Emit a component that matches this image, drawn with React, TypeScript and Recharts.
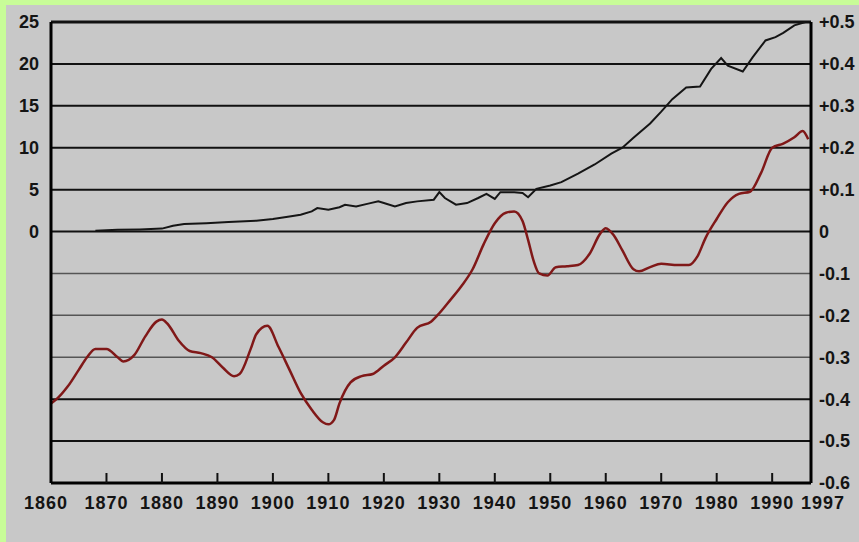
import {
  LineChart,
  Line,
  XAxis,
  YAxis,
  ReferenceLine,
} from 'recharts';

const tempYears = [
  1860, 1861, 1863, 1865, 1866.5, 1868, 1870, 1872, 1873, 1875, 1877, 1879, 1880, 1881, 1883,
  1885, 1887, 1889, 1891, 1893, 1894, 1896, 1897, 1899, 1901, 1903, 1905, 1907, 1909, 1910,
  1911, 1912, 1914, 1916, 1918, 1920, 1922, 1924, 1926, 1928.5, 1930, 1932, 1934, 1936, 1938,
  1940, 1942, 1943.5, 1945, 1946, 1947, 1948, 1949.5, 1951, 1953, 1955, 1957, 1959, 1960,
  1961.5, 1963, 1965, 1966, 1968, 1970, 1973, 1975, 1976.5, 1978, 1980, 1982, 1984, 1986,
  1988, 1990, 1992, 1994, 1995.5, 1996.5,
];
const tempAnomaly = [
  -0.41, -0.4, -0.37, -0.33, -0.3, -0.28, -0.28, -0.3, -0.31, -0.295, -0.25, -0.215, -0.21,
  -0.22, -0.26, -0.285, -0.29, -0.3, -0.325, -0.345, -0.34, -0.28, -0.245, -0.225, -0.275,
  -0.33, -0.385, -0.425, -0.455, -0.46, -0.45, -0.41, -0.36, -0.345, -0.34, -0.32, -0.3,
  -0.265, -0.23, -0.215, -0.195, -0.163, -0.13, -0.09, -0.03, 0.02, 0.045, 0.048, 0.025,
  -0.02, -0.07, -0.1, -0.105, -0.085, -0.083, -0.08, -0.055, -0.005, 0.008, -0.01, -0.045,
  -0.09, -0.095, -0.085, -0.077, -0.08, -0.08, -0.06, -0.015, 0.03, 0.07, 0.09, 0.095, 0.14,
  0.2, 0.21, 0.225, 0.24, 0.22,
];

const emissionYears = [
  1868, 1872, 1876, 1880, 1882, 1884, 1888, 1892, 1897, 1900, 1903, 1905, 1907, 1908, 1910,
  1912, 1913, 1915, 1917, 1919, 1920, 1922, 1924, 1926, 1929, 1930, 1931, 1933, 1935, 1937,
  1938.5, 1940, 1941, 1943.5, 1945, 1946, 1947.5, 1950, 1952, 1955, 1958, 1961, 1963, 1965,
  1968, 1970, 1972, 1974.5, 1977, 1979, 1980.8, 1982, 1984.7, 1986.5, 1988.8, 1990.6, 1992,
  1994, 1996,
];
const emissions = [
  0.1, 0.2, 0.25, 0.35, 0.7, 0.9, 1.0, 1.15, 1.3, 1.5, 1.8, 2.0, 2.4, 2.8, 2.6, 2.9, 3.2, 3.0,
  3.3, 3.6, 3.4, 3.0, 3.4, 3.6, 3.8, 4.7, 4.0, 3.2, 3.4, 4.0, 4.5, 3.9, 4.7, 4.7, 4.6, 4.1,
  5.1, 5.5, 5.9, 6.9, 8.0, 9.3, 10.0, 11.2, 12.9, 14.3, 15.8, 17.2, 17.3, 19.4, 20.7, 19.8,
  19.1, 20.8, 22.8, 23.2, 23.7, 24.6, 25.0,
];

const xTicks = [1860, 1870, 1880, 1890, 1900, 1910, 1920, 1930, 1940, 1950, 1960, 1970, 1980, 1990, 1997];
const leftTicks = [0, 5, 10, 15, 20, 25];
const rightTicks = [0.5, 0.4, 0.3, 0.2, 0.1, 0, -0.1, -0.2, -0.3, -0.4, -0.5, -0.6];
const gridLines = [0.5, 0.4, 0.3, 0.2, 0.1, 0, -0.1, -0.2, -0.3, -0.4, -0.5];

const tempData = tempYears.map((year, i) => ({ year, value: tempAnomaly[i] }));
const emissionData = emissionYears.map((year, i) => ({ year, value: emissions[i] }));

const labelStyle = {
  fill: '#141414',
  fontSize: 18,
  fontWeight: 700,
  fontFamily: '"Liberation Sans", Arial, sans-serif',
};

const formatRight = (v: number) => {
  if (v === 0) return '0';
  const s = Math.abs(v).toFixed(1);
  return (v > 0 ? '+' : '-') + s;
};

// year label under the axis, with a short tick standing up into the plot
function XTick(props: any) {
  const { x, y, payload } = props;
  const v = payload.value;
  const edge = v === 1860 || v === 1997;
  const dx = v === 1860 ? -5 : v === 1997 ? 12 : 0;
  return (
    <g>
      {!edge && <rect x={x - 1} y={y - 10} width={2} height={10} fill="#111" />}
      <text x={x + dx} y={y + 26} textAnchor="middle" letterSpacing={1} {...labelStyle}>
        {v}
      </text>
    </g>
  );
}

export default function App() {
  return (
    <div style={{ position: 'absolute', left: 0, top: 0, width: 859, height: 542, background: '#c8c8c8' }}>
      <LineChart width={859} height={542} margin={{ top: 22, right: 0, bottom: 0, left: 0 }}>
        <XAxis
          dataKey="year"
          type="number"
          domain={[1860, 1997]}
          ticks={xTicks}
          allowDuplicatedCategory={false}
          height={59}
          tickSize={0}
          tickMargin={0}
          tickLine={false}
          axisLine={{ stroke: '#000', strokeWidth: 3 }}
          tick={<XTick />}
          interval={0}
        />
        <YAxis
          yAxisId="left"
          orientation="left"
          width={51}
          domain={[-30, 25]}
          ticks={leftTicks}
          tickSize={0}
          tickMargin={12}
          tickLine={false}
          axisLine={{ stroke: '#000', strokeWidth: 3 }}
          tick={labelStyle}
          interval={0}
        />
        <YAxis
          yAxisId="right"
          orientation="right"
          width={48}
          domain={[-0.6, 0.5]}
          ticks={rightTicks}
          tickSize={0}
          tickMargin={8}
          tickLine={false}
          axisLine={{ stroke: '#000', strokeWidth: 3 }}
          tick={{ ...labelStyle, textAnchor: 'start' }}
          tickFormatter={formatRight}
          interval={0}
        />
        {gridLines.map((g) => (
          <ReferenceLine
            key={g}
            yAxisId="right"
            y={g}
            stroke={g < 0 && g > -0.35 ? '#555' : '#111'}
            strokeWidth={g === 0.5 ? 3 : g < 0 && g > -0.35 ? 1.5 : 2}
          />
        ))}
        <Line
          yAxisId="left"
          data={emissionData}
          dataKey="value"
          type="linear"
          stroke="#151515"
          strokeWidth={2}
          dot={false}
          isAnimationActive={false}
        />
        <Line
          yAxisId="right"
          data={tempData}
          dataKey="value"
          type="monotone"
          stroke="#801818"
          strokeWidth={2.5}
          dot={false}
          isAnimationActive={false}
        />
      </LineChart>
      <div style={{ position: 'absolute', left: 0, top: 0, width: 859, height: 5, background: '#c8fc98' }} />
      <div style={{ position: 'absolute', left: 0, top: 0, width: 6, height: 542, background: '#c8fc98' }} />
    </div>
  );
}
